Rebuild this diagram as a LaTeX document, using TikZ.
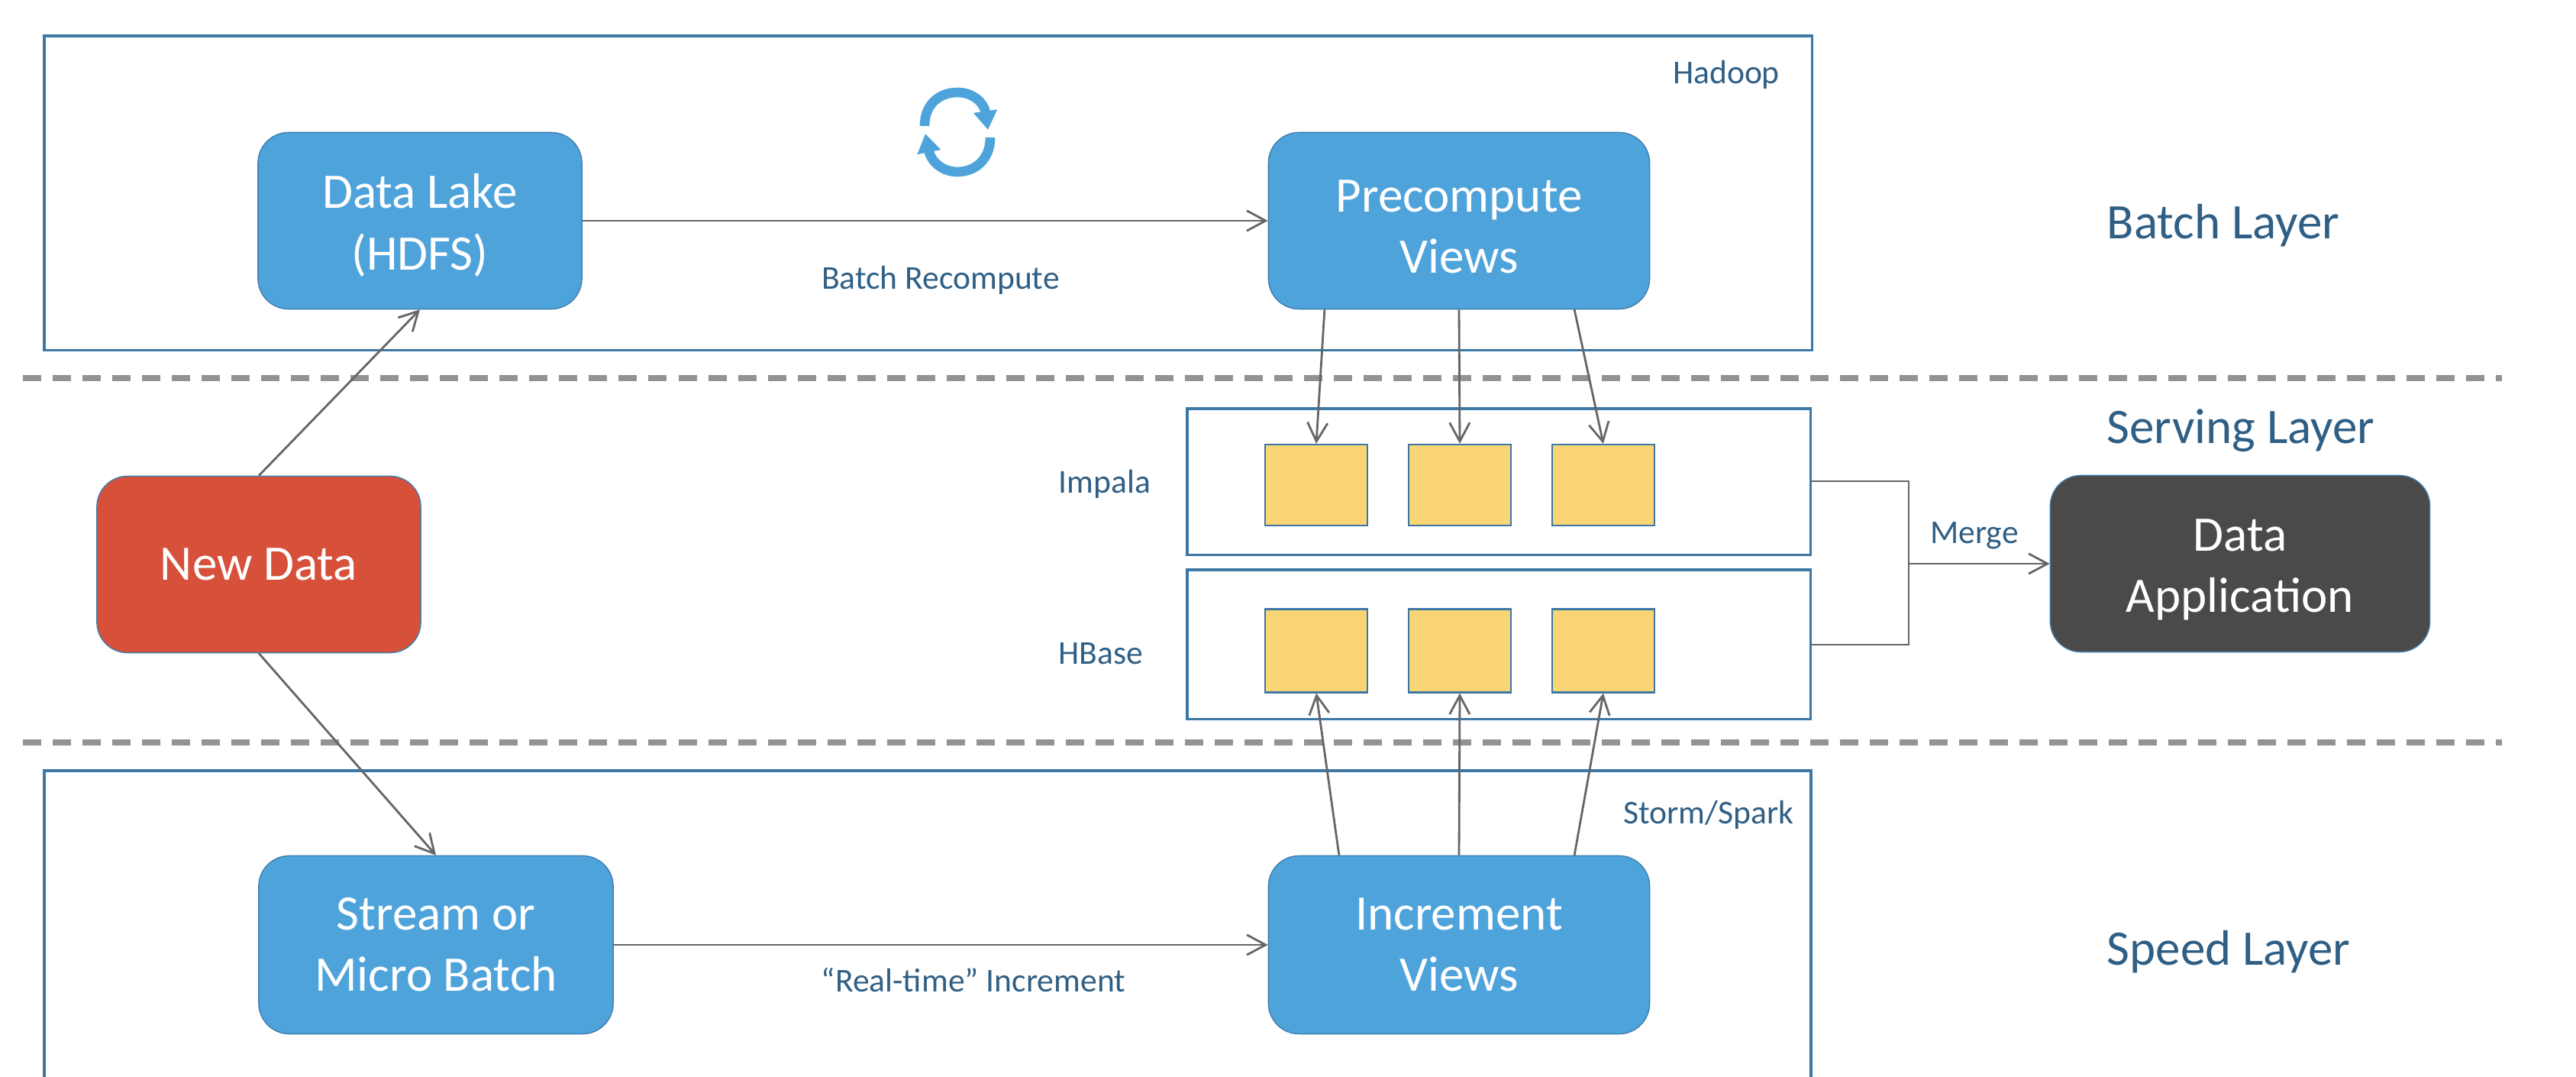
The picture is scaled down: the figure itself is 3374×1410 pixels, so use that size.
\documentclass[tikz,border=0pt]{standalone}
\usepackage{fontspec}
\setmainfont{Carlito}
\usetikzlibrary{arrows.meta}

\definecolor{boxblue}{HTML}{4FA3DB}
\definecolor{boxline}{HTML}{3F7FB0}
\definecolor{layerline}{HTML}{3D78A5}
\definecolor{labelblue}{HTML}{2F5F85}
\definecolor{newred}{HTML}{D6503A}
\definecolor{appgray}{HTML}{4A4A4A}
\definecolor{cellyellow}{HTML}{F9D575}
\definecolor{linkgray}{HTML}{666666}

\newcommand{\lowerline}{\rule{0pt}{16.2pt}}

\begin{document}
\begin{tikzpicture}[
    x=0.01cm,
    y=-0.01cm,
    >={Straight Barb[length=7pt,width=7.5pt]},
    step box/.style = {
      draw = boxline,
      fill = boxblue,
      rounded corners = 0.4cm,
      text = white,
      align = center,
      font = \fontsize{18.5}{22.8}\selectfont,
      inner sep = 0pt,
      minimum width = 4.24cm,
      minimum height = 2.31cm
    },
    layer box/.style = {
      draw = layerline,
      line width = 0.9pt,
      inner sep = 0pt,
      outer sep = 0pt,
      anchor = north west
    },
    cell/.style = {
      draw = layerline,
      fill = cellyellow,
      line width = 0.6pt,
      inner sep = 0pt,
      minimum width = 1.34cm,
      minimum height = 1.06cm
    },
    small label/.style = {
      text = labelblue,
      font = \fontsize{12.4}{15}\selectfont,
      inner sep = 0pt
    },
    layer label/.style = {
      text = labelblue,
      font = \fontsize{18.5}{22.8}\selectfont,
      anchor = west,
      inner sep = 0pt
    },
    link/.style = {
      draw = linkgray,
      line width = 0.8pt
    },
    divider/.style = {
      draw = gray!85,
      line width = 2pt,
      dash pattern = on 0.24cm off 0.15cm
    }
  ]
  \useasboundingbox (0,0) rectangle (3374,1410);

  % layers
  \node[layer box, minimum width = 23.14cm, minimum height = 4.11cm] (hadoop) at (58,47) {};
  \node[layer box, minimum width = 8.16cm, minimum height = 1.91cm] (impala) at (1555,535) {};
  \node[layer box, minimum width = 8.16cm, minimum height = 1.95cm] (hbase) at (1555,746) {};
  \draw[draw = layerline, line width = 0.9pt] (58,1410) -- (58,1009) -- (2372,1009) -- (2372,1410);

  \draw[divider] (30,495) -- (3277,495);
  \draw[divider] (30,972) -- (3277,972);

  % steps
  \node[step box] (lake) at (550,289) {\lowerline Data Lake\\(HDFS)};
  \node[step box, minimum width = 4.99cm] (pre) at (1911,289) {\lowerline Precompute\\Views};
  \node[step box, fill = newred] (new) at (339,739) {New Data};
  \node[step box, minimum width = 4.64cm, minimum height = 2.33cm] (stream) at (571,1237) {Stream or\\Micro Batch};
  \node[step box, minimum width = 4.99cm, minimum height = 2.33cm] (inc) at (1911,1237) {Increment\\Views};
  \node[step box, fill = appgray, minimum width = 4.97cm] (app) at (2934,738) {\lowerline Data\\Application};

  % cells
  \foreach \n/\x in {1/1724,2/1912,3/2100} {
    \node[cell] (top\n) at (\x,635) {};
    \node[cell, minimum height = 1.09cm] (bot\n) at (\x,852) {};
  }

  % arrows
  \draw[link,->] (new.north) -- (lake.south);
  \draw[link,->] (new.south) -- (stream.north);
  \draw[link,->] (lake.east) -- (pre.west);
  \draw[link,->] (stream.east) -- (inc.west);

  \draw[link,->] ([xshift=-1.76cm]pre.south) -- (top1.north);
  \draw[link,->] (pre.south) -- (top2.north);
  \draw[link,->] ([xshift=1.51cm]pre.south) -- (top3.north);
  \draw[link,->] ([xshift=-1.57cm]inc.north) -- (bot1.south);
  \draw[link,->] (inc.north) -- (bot2.south);
  \draw[link,->] ([xshift=1.51cm]inc.north) -- (bot3.south);

  \coordinate (mergeup) at (2500,630);
  \coordinate (mergedown) at (2500,844);
  \coordinate (mergemid) at (2500,738);
  \draw[link] (impala.east |- mergeup) -- (mergeup) -- (mergedown) -- (hbase.east |- mergedown);
  \draw[link,->] (mergemid) -- (app.west);

  % labels
  \node[small label] (hadooplabel) at (2261,98) {Hadoop};
  \node[small label] (recompute) at (1232,367) {Batch Recompute};
  \node[small label] (realtime) at (1275,1283) {“Real-time” Increment};
  \node[small label] (storm) at (2238,1067) {Storm/Spark};
  \node[small label, anchor = west] (impalalabel) at (1386,634) {Impala};
  \node[small label, anchor = west] (hbaselabel) at (1386,856) {HBase};
  \node[small label] (merge) at (2586,701) {Merge};

  \node[layer label] (batch) at (2759,295) {Batch Layer};
  \node[layer label] (serving) at (2759,564) {Serving Layer};
  \node[layer label] (speed) at (2759,1246) {Speed Layer};

  % cycle icon
  \draw[boxblue, line width = 3.6pt, -{Triangle[length=7pt,width=8.5pt]}]
    (1211,165) .. controls (1211,135) and (1232,121) .. (1254,121)
    .. controls (1275,121) and (1289,135) .. (1294,170);
  \draw[boxblue, line width = 3.6pt, -{Triangle[length=7pt,width=8.5pt]}]
    (1297,180) .. controls (1297,210) and (1276,225) .. (1254,225)
    .. controls (1233,225) and (1219,210) .. (1212,175);
\end{tikzpicture}
\end{document}
